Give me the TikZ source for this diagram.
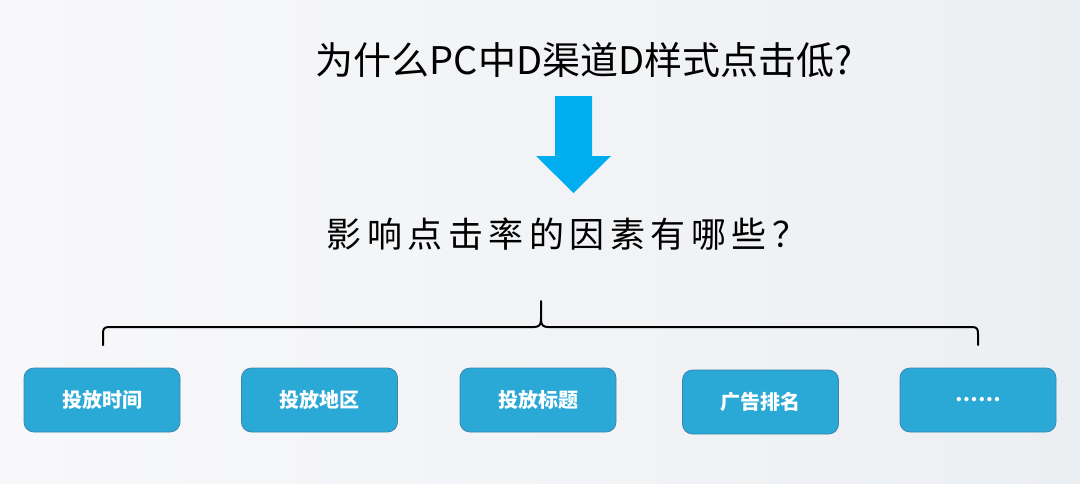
\documentclass[tikz,border=0pt]{standalone}
\usepackage{fontspec}
\setmainfont{Noto Sans CJK SC}
\newfontfamily\cjk{Noto Sans CJK SC}
\definecolor{bgL}{HTML}{F8F8FA}
\definecolor{bgR}{HTML}{ECEFF2}
\definecolor{arrowblue}{HTML}{00AEEF}
\definecolor{boxfill}{HTML}{2AA8D6}
\definecolor{boxline}{HTML}{3A86AE}
\tikzset{
  factor/.style={draw=boxline, line width=0.8pt, fill=boxfill, rounded corners=10pt,
    minimum width=156pt, minimum height=64pt, text=white, font=\cjk\bfseries\fontsize{20}{22}\selectfont, inner sep=0pt},
  bracket/.style={line width=2pt, black, line cap=round, line join=round}
}
\newcommand{\ks}{\hspace{5.5pt}}
\begin{document}
\begin{tikzpicture}[x=1pt,y=-1pt]
\shade[left color=bgL, right color=bgR] (0,0) rectangle (1080,483);
\useasboundingbox (0,0) rectangle (1080,483);
\node[font=\cjk\fontsize{38}{44}\selectfont, inner sep=0pt] (title) at (584,60) {为什么PC中D渠道D样式点击低?};
\fill[arrowblue] (555,96) -- (592,96) -- (592,156) -- (611,156) -- (573.5,193) -- (536,156) -- (555,156) -- cycle;
\node[font=\cjk\fontsize{35}{40}\selectfont, inner sep=0pt] (question) at (567,234) {影\ks 响\ks 点\ks 击\ks 率\ks 的\ks 因\ks 素\ks 有\ks 哪\ks 些\ks ？};
\draw[bracket] (103,345) -- (103,334) .. controls (103,329) and (104,327) .. (109,327) -- (534,327)
  .. controls (539,327) and (541,325) .. (541,319) -- (541,301);
\draw[bracket] (978,345) -- (978,334) .. controls (978,329) and (977,327) .. (972,327) -- (548,327)
  .. controls (543,327) and (541,325) .. (541,319);
\node[factor] (f1) at (102,400) {投放时间};
\node[factor] (f2) at (319.5,400) {投放地区};
\node[factor] (f3) at (538,400) {投放标题};
\node[factor] (f4) at (760.5,402) {广告排名};
\node[factor] (f5) at (978,400) {……};
\end{tikzpicture}
\end{document}
